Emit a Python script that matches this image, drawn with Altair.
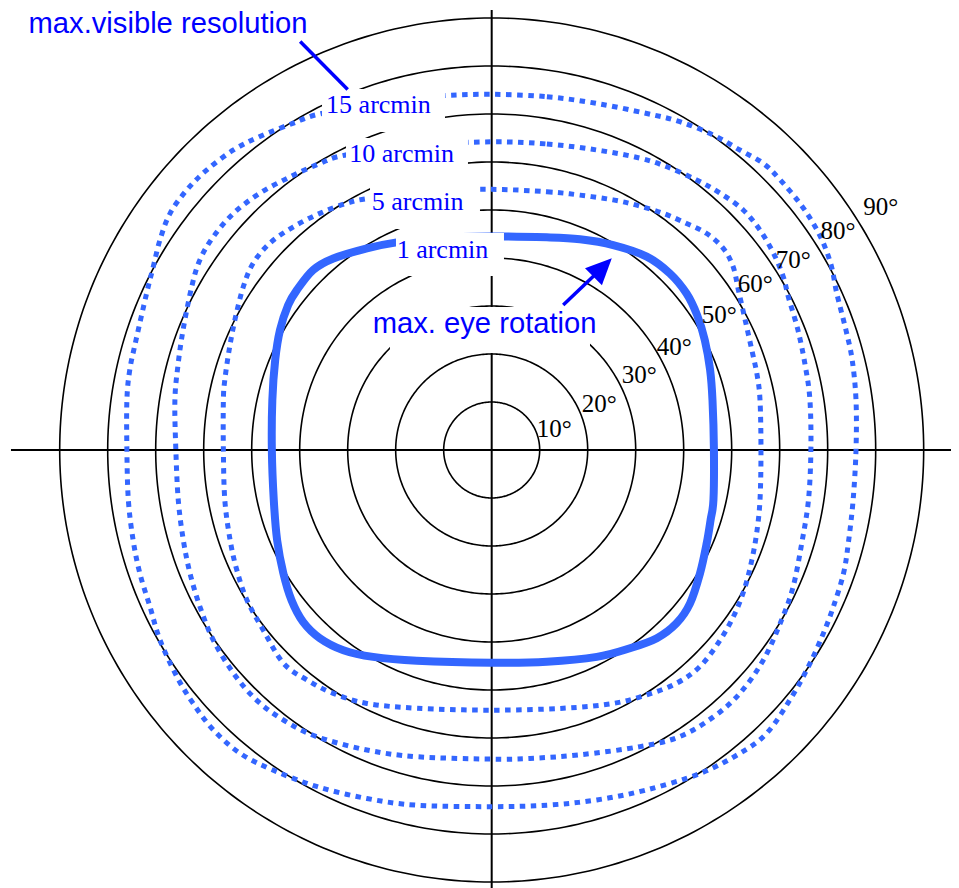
import altair as alt
import numpy as np
import pandas as pd

# ---------------- data (degrees of eccentricity) ----------------
rings = [10, 20, 30, 40, 50, 60, 70, 80, 90]
ring_labels = ["10°", "20°", "30°", "40°", "50°", "60°", "70°", "80°", "90°"]
ring_label_x = [9.4, 18.75, 27.1, 34.4, 43.75, 51.25, 59.2, 68.5, 77.4]
ring_label_y = [2.7, 8.0, 13.9, 19.8, 26.4, 33.0, 37.85, 43.9, 49.0]

# 1 arcmin contour (max. eye rotation, solid)
s1_x = [0, 11.5, 18.4, 25.3, 32.3, 37.1, 40.6, 42.8, 44.4, 45.5, 46.0, 46.3, 46.2, 45.6, 44.8, 43.4,
        41.3, 38.5, 34.4, 28.8, 21.9, 11.5, 0, -15.6, -24.7, -30.9, -35.8, -39.3, -41.7, -43.4, -44.7,
        -45.4, -45.8, -45.7, -45.1, -44.1, -42.4, -40.6, -37.2, -33.0, -26.0, -20.1, -10.8]
s1_y = [44.5, 44.3, 43.9, 42.7, 40.3, 36.8, 32.6, 28.1, 22.9, 16.7, 10.4, 0, -10.4, -14.6, -19.4, -25.7,
        -32.0, -36.1, -39.2, -41.3, -43.1, -44.1, -44.3, -43.9, -43.1, -41.7, -39.2, -35.8, -31.3, -25.7, -18.8,
        -10.4, 0, 10.4, 18.8, 25.0, 30.2, 33.3, 37.5, 39.9, 42.0, 43.2, 44.2]

# 5 arcmin contour
d5_x = [0, 11.5, 18.4, 25.3, 30.2, 35.75, 40.6, 44.8, 48.25, 50.3, 51.4, 52.8, 54.2, 55.3, 55.9, 56.1,
        55.9, 55.2, 54.2, 52.8, 50.7, 47.6, 43.4, 38.5, 32.3, 25.3, 14.9, 0, -15.6, -26.0, -33.0, -38.5,
        -43.4, -47.6, -51.0, -53.1, -54.5, -55.6, -55.9, -55.9, -55.6, -54.7, -53.5, -51.75, -49.7, -46.2,
        -41.3, -35.8, -30.2, -25.7, -12.9]
d5_y = [54.3, 53.8, 53.1, 52.1, 51.0, 49.3, 47.2, 45.1, 42.0, 38.2, 33.3, 27.1, 20.8, 15.6, 10.4, 0,
        -10.4, -17.35, -22.9, -28.5, -34.0, -39.6, -45.1, -48.6, -51.0, -52.8, -53.8, -54.2, -53.8, -52.8, -50.7, -47.9,
        -44.4, -37.5, -31.25, -25.0, -18.75, -10.4, 0, 10.4, 14.6, 20.8, 27.1, 34.0, 38.9, 43.1,
        46.5, 49.3, 51.4, 52.4, 53.96]

# 10 arcmin contour
d10_x = [0, 11.5, 21.9, 30.9, 36.5, 42.7, 47.6, 52.4, 55.9, 58.7, 60.75, 61.8, 63.8, 65.3, 66.3, 66.5,
         66.0, 64.6, 62.8, 60.4, 56.6, 51.7, 46.2, 39.2, 30.9, 18.4, 8.0, 0, -15.6, -26.0, -36.5, -43.4,
         -49.0, -53.8, -58.0, -60.8, -62.85, -64.25, -65.3, -65.8, -66.0, -65.35, -64.3, -62.5, -60.8,
         -58.0, -53.8, -48.3, -42.0, -35.8, -30.2, -14.9]
d10_y = [64.2, 63.75, 62.5, 60.8, 59.0, 56.25, 53.5, 50.0, 45.8, 41.0, 36.1, 31.9, 25.0, 17.7, 10.4, 0,
         -10.4, -19.4, -28.5, -35.4, -43.75, -50.7, -55.6, -59.7, -61.8, -63.5, -64.25, -64.4, -63.9, -62.5, -59.7, -56.25,
         -52.1, -46.5, -39.6, -32.6, -25.7, -18.75, -10.4, 0, 10.4, 17.7, 25.0, 34.0, 39.6,
         44.4, 49.3, 53.5, 56.9, 59.7, 61.5, 63.5]

# 15 arcmin contour
d15_x = [0, 11.5, 21.9, 32.3, 39.2, 46.2, 51.7, 56.6, 60.1, 64.2, 67.0, 69.1, 70.8, 71.9, 73.8, 75.1, 75.9,
         75.9, 75.3, 74.3, 73.3, 71.2, 69.1, 66.0, 62.1, 57.3, 51.7, 43.4, 32.3, 21.9, 11.5, 0,
         -15.6, -26.0, -36.5, -45.5, -52.4, -58.0, -62.2, -65.6, -69.1, -71.2, -73.3, -74.7, -75.7, -76.0,
         -76.0, -75.4, -74.1, -71.9, -70.5, -69.1, -67.0, -63.5, -59.4, -53.8, -48.3, -41.3, -35.4, -19.1, -10.8]
d15_y = [74.1, 73.6, 72.2, 70.1, 68.4, 65.6, 62.5, 59.7, 56.3, 51.4, 47.2, 43.1, 38.2, 32.6, 25.0, 18.8, 10.4,
         0, -10.4, -19.4, -25.7, -32.6, -38.2, -45.1, -52.1, -59.0, -63.2, -67.4, -70.8, -72.9, -74.0, -74.3,
         -74.0, -72.6, -70.1, -66.7, -63.2, -58.3, -52.8, -47.2, -39.6, -32.6, -25.7, -18.8, -10.4, 0,
         10.4, 16.7, 22.9, 32.6, 38.2, 43.8, 49.3, 54.2, 58.3, 62.5, 65.3, 68.1, 70.1, 72.9, 73.8]

arcmin_labels = ["15 arcmin", "10 arcmin", "5 arcmin", "1 arcmin"]
arcmin_label_x = [-34.5, -29.67, -25.0, -19.8]
arcmin_label_y = [70.15, 60.06, 50.0, 39.94]
# white label backgrounds (x, x2, y, y2)
box_x1 = [-35.35, -30.35, -25.35, -19.94, -21.2]
box_x2 = [-9.73, -4.94, -2.44, 2.56, 20.48]
box_y1 = [75.2, 65.0, 56.04, 45.2, 29.8]
box_y2 = [66.25, 56.04, 46.04, 36.25, 20.2]

# ---------------- scales ----------------
X0, X1 = -100.77, 95.69
Y0, Y1 = -91.25, 92.08
W, H = 943, 880
xs = alt.Scale(domain=[X0, X1], nice=False, zero=False)
ys = alt.Scale(domain=[Y0, Y1], nice=False, zero=False)


def X(f="x"):
    return alt.X(f + ":Q", scale=xs, axis=None)


def Y(f="y"):
    return alt.Y(f + ":Q", scale=ys, axis=None)


BLUE_LINE = "#3366ff"
BLUE_TEXT = "#0000ff"

# grid circles
t = np.linspace(0, 2 * np.pi, 361)
circ = pd.concat([pd.DataFrame({"ring": r, "i": np.arange(len(t)), "x": r * np.cos(t), "y": r * np.sin(t)})
                  for r in rings])
circles = alt.Chart(circ).mark_line(color="black", strokeWidth=1.6).encode(
    x=X(), y=Y(), detail="ring:N", order="i:Q")

# axis cross
axes_df = pd.DataFrame({"seg": ["h", "h", "v", "v"], "i": [0, 1, 0, 1],
                        "x": [-100.15, 100.15, 0, 0], "y": [0, 0, 91.67, -92.5]})
axes_lines = alt.Chart(axes_df).mark_line(color="black", strokeWidth=2).encode(
    x=X(), y=Y(), detail="seg:N", order="i:Q")


def curve_df(name, xv, yv):
    return pd.DataFrame({"curve": name, "i": range(len(xv)), "x": xv, "y": yv})


dotted_df = pd.concat([curve_df("5", d5_x, d5_y), curve_df("10", d10_x, d10_y), curve_df("15", d15_x, d15_y)])
dotted = alt.Chart(dotted_df).mark_line(color=BLUE_LINE, strokeWidth=5, strokeDash=[5.5, 5.5],
                                        interpolate="cardinal-closed").encode(
    x=X(), y=Y(), detail="curve:N", order="i:Q")
solid = alt.Chart(curve_df("1", s1_x, s1_y)).mark_line(color=BLUE_LINE, strokeWidth=8,
                                                       interpolate="cardinal-closed").encode(
    x=X(), y=Y(), order="i:Q")

boxes = alt.Chart(pd.DataFrame({"x": box_x1, "x2": box_x2, "y": box_y1, "y2": box_y2})).mark_rect(
    color="white").encode(x=X(), x2="x2:Q", y=Y(), y2="y2:Q")

deg_text = alt.Chart(pd.DataFrame({"t": ring_labels, "x": ring_label_x, "y": ring_label_y})).mark_text(
    align="left", baseline="alphabetic", font="Liberation Serif", fontSize=25, color="black").encode(
    x=X(), y=Y(), text="t:N")

arc_text = alt.Chart(pd.DataFrame({"t": arcmin_labels, "x": arcmin_label_x, "y": arcmin_label_y})).mark_text(
    align="left", baseline="alphabetic", font="Liberation Serif", fontSize=26, color=BLUE_TEXT).encode(
    x=X(), y=Y(), text="t:N")

titles = alt.Chart(pd.DataFrame({"t": ["max.visible resolution", "max. eye rotation"],
                                 "x": [-96.5, -24.8], "y": [86.8, 24.4]})).mark_text(
    align="left", baseline="alphabetic", font="Liberation Sans", fontSize=29.2, color=BLUE_TEXT).encode(
    x=X(), y=Y(), text="t:N")

leaders = alt.Chart(pd.DataFrame({"seg": ["a", "a", "b", "b"], "i": [0, 1, 0, 1],
                                  "x": [-39.9, -30.0, 14.9, 22.0], "y": [85.1, 75.1, 30.2, 37.0]})).mark_line(
    color=BLUE_TEXT, strokeWidth=3.5).encode(x=X(), y=Y(), detail="seg:N", order="i:Q")

head = alt.Chart(pd.DataFrame({"x": [22.9], "y": [37.8]})).mark_point(
    shape="M0,-1L0.83,0.8L-0.83,0.8Z", size=830, angle=45, filled=True, color=BLUE_TEXT, opacity=1,
    strokeWidth=0).encode(x=X(), y=Y())

chart = alt.layer(circles, axes_lines, dotted, solid, boxes, deg_text, arc_text, titles, leaders, head).properties(
    width=W, height=H, padding=0, autosize="none").configure_view(stroke=None)

chart.save("out.html", embed_options={"renderer": "svg", "actions": False})
